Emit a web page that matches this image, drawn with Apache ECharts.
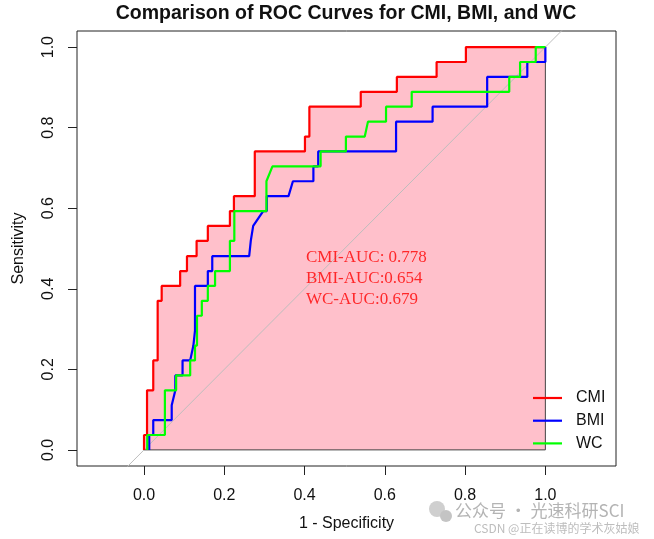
<!DOCTYPE html>
<html><head><meta charset="utf-8">
<script src="https://cdn.jsdelivr.net/npm/echarts@6/dist/echarts.min.js"></script>
<style>html,body{margin:0;padding:0;background:#fff}#c{width:654px;height:539px}</style>
</head><body><div id="c"></div>
<script>
// tick labels
const xTicks = [0, 0.2, 0.4, 0.6, 0.8, 1.0];
const yTicks = [0, 0.2, 0.4, 0.6, 0.8, 1.0];
const seriesNames = ['CMI', 'BMI', 'WC'];
const aucTexts = ['CMI-AUC: 0.778', 'BMI-AUC:0.654', 'WC-AUC:0.679'];

// ROC vertices: 1 - specificity (x) and sensitivity (y)
const cmiX = [0,0,0.0075,0.0075,0.023,0.023,0.034,0.034,0.044,0.044,0.09,0.09,0.107,0.107,0.131,0.131,0.159,0.159,0.214,0.214,0.224,0.224,0.276,0.276,0.401,0.401,0.412,0.412,0.540,0.540,0.630,0.630,0.729,0.729,0.802,0.802,1.0];
const cmiY = [0,0.037,0.037,0.148,0.148,0.222,0.222,0.370,0.370,0.407,0.407,0.444,0.444,0.481,0.481,0.519,0.519,0.556,0.556,0.593,0.593,0.630,0.630,0.741,0.741,0.778,0.778,0.852,0.852,0.889,0.889,0.926,0.926,0.963,0.963,1.0,1.0];

const bmiX = [0.013,0.013,0.023,0.023,0.069,0.069,0.078,0.078,0.096,0.096,0.115,0.123,0.127,0.127,0.159,0.159,0.170,0.170,0.262,0.266,0.272,0.297,0.306,0.306,0.360,0.371,0.422,0.422,0.434,0.434,0.628,0.628,0.719,0.719,0.855,0.855,0.955,0.955,1.0,1.0];
const bmiY = [0,0.037,0.037,0.074,0.074,0.111,0.148,0.185,0.185,0.222,0.222,0.259,0.296,0.407,0.407,0.444,0.444,0.481,0.481,0.519,0.556,0.593,0.593,0.630,0.630,0.667,0.667,0.704,0.704,0.741,0.741,0.815,0.815,0.852,0.852,0.926,0.926,0.963,0.963,1.0];

const wcX = [0.008,0.008,0.052,0.052,0.080,0.080,0.115,0.115,0.127,0.127,0.132,0.132,0.144,0.144,0.159,0.159,0.177,0.177,0.214,0.214,0.225,0.225,0.305,0.305,0.320,0.440,0.440,0.503,0.503,0.550,0.558,0.603,0.603,0.667,0.667,0.910,0.910,0.937,0.937,0.976,0.976,1.0];
const wcY = [0,0.037,0.037,0.148,0.148,0.185,0.185,0.222,0.222,0.259,0.259,0.333,0.333,0.370,0.370,0.407,0.407,0.444,0.444,0.519,0.519,0.593,0.593,0.667,0.704,0.704,0.741,0.741,0.778,0.778,0.815,0.815,0.852,0.852,0.889,0.889,0.926,0.926,0.963,0.963,1.0,1.0];

// reference line and AUC polygon border (data units)
const diagonal = [[-0.2,-0.2],[1.2,1.2]];
const polyBorder = [[0,0],[1,0],[1,1]];
// AUC annotation anchor (data units)
const aucX = [0.4035, 0.4035, 0.4035];
const aucY = [0.478, 0.425, 0.374];

const zip = (a, b) => a.map((v, i) => [v, b[i]]);
const cmi = zip(cmiX, cmiY), bmi = zip(bmiX, bmiY), wc = zip(wcX, wcY);

const chart = echarts.init(document.getElementById('c'));
const sans = 'Liberation Sans, Arial, sans-serif';
chart.setOption({
  animation: false,
  backgroundColor: '#fff',
  grid: { left: 77, right: 38, top: 31, bottom: 73, show: true, borderColor: '#222', borderWidth: 1, backgroundColor: 'transparent' },
  xAxis: {
    type: 'value', min: -0.167, max: 1.176,
    axisLine: { show: false, onZero: false },
    splitLine: { show: false },
    axisTick: { show: true, customValues: xTicks, length: 9, lineStyle: { color: '#222' } },
    axisLabel: { customValues: xTicks, formatter: v => v.toFixed(1), margin: 22, fontSize: 16, color: '#111', fontFamily: sans },
    name: '1 - Specificity', nameLocation: 'middle', nameGap: 50,
    nameTextStyle: { fontSize: 16, color: '#111', fontFamily: sans }
  },
  yAxis: {
    type: 'value', min: -0.04, max: 1.04,
    axisLine: { show: false, onZero: false },
    splitLine: { show: false },
    axisTick: { show: true, customValues: yTicks, length: 9, lineStyle: { color: '#222' } },
    axisLabel: { customValues: yTicks, formatter: v => v.toFixed(1), rotate: 90, margin: 20, fontSize: 16, color: '#111', fontFamily: sans },
    name: 'Sensitivity', nameLocation: 'middle', nameGap: 50, nameRotate: 90,
    nameTextStyle: { fontSize: 16, color: '#111', fontFamily: sans }
  },
  legend: {
    data: seriesNames.map(n => ({ name: n, icon: 'rect' })),
    orient: 'vertical', left: 533, top: 390, padding: 0,
    itemWidth: 29, itemHeight: 2.2, itemGap: 6.7,
    textStyle: { fontSize: 16, color: '#111', fontFamily: sans, lineHeight: 16, padding: [0, 0, 0, 9] }
  },
  graphic: [
    { type: 'text', x: 346, y: 14, style: { text: 'Comparison of ROC Curves for CMI, BMI, and WC', font: 'bold 19.5px Liberation Sans, Arial, sans-serif', fill: '#111', align: 'center', verticalAlign: 'middle' } },
    { type: 'circle', shape: { cx: 437, cy: 509, r: 8 }, style: { fill: '#cfcfcf' } },
    { type: 'circle', shape: { cx: 446, cy: 516, r: 6 }, style: { fill: '#c4c4c4' } },
    { type: 'text', x: 455, y: 511, style: { text: '公众号 · 光速科研SCI', font: '17px Noto Sans CJK SC, sans-serif', fill: '#b4b4b4', align: 'left', verticalAlign: 'middle' } },
    { type: 'text', x: 474, y: 528, style: { text: 'CSDN @正在读博的学术灰姑娘', font: '12px Noto Sans CJK SC, sans-serif', fill: '#bdbdbd', align: 'left', verticalAlign: 'middle' } }
  ],
  series: [
    { name: 'AUCpoly', type: 'line', data: cmi, showSymbol: false, symbol: 'none', lineStyle: { width: 0, opacity: 0 }, areaStyle: { color: '#FFC0CB', opacity: 1 }, z: 1, silent: true },
    { name: 'polyBorder', type: 'line', data: polyBorder, symbol: 'none', lineStyle: { color: '#444', width: 1 }, z: 2, silent: true },
    { name: 'diag', type: 'line', data: diagonal, symbol: 'none', lineStyle: { color: '#BDBDBD', width: 1 }, z: 3, clip: true, silent: true },
    { name: 'CMI', type: 'line', data: cmi, symbol: 'none', color: '#FF0000', lineStyle: { color: '#FF0000', width: 2.2 }, z: 4 },
    { name: 'BMI', type: 'line', data: bmi, symbol: 'none', color: '#0000FF', lineStyle: { color: '#0000FF', width: 2.2 }, z: 5 },
    { name: 'WC', type: 'line', data: wc, symbol: 'none', color: '#00FF00', lineStyle: { color: '#00FF00', width: 2.2 }, z: 6 },
    { name: 'auc', type: 'scatter', symbolSize: 0, z: 7, silent: true,
      data: aucTexts.map((t, i) => ({ value: [aucX[i], aucY[i]], label: { formatter: t } })),
      label: { show: true, position: 'right', distance: 0, color: '#FF0000', fontSize: 17, fontFamily: 'Liberation Serif, Times New Roman, serif' } }
  ]
});
</script></body></html>
